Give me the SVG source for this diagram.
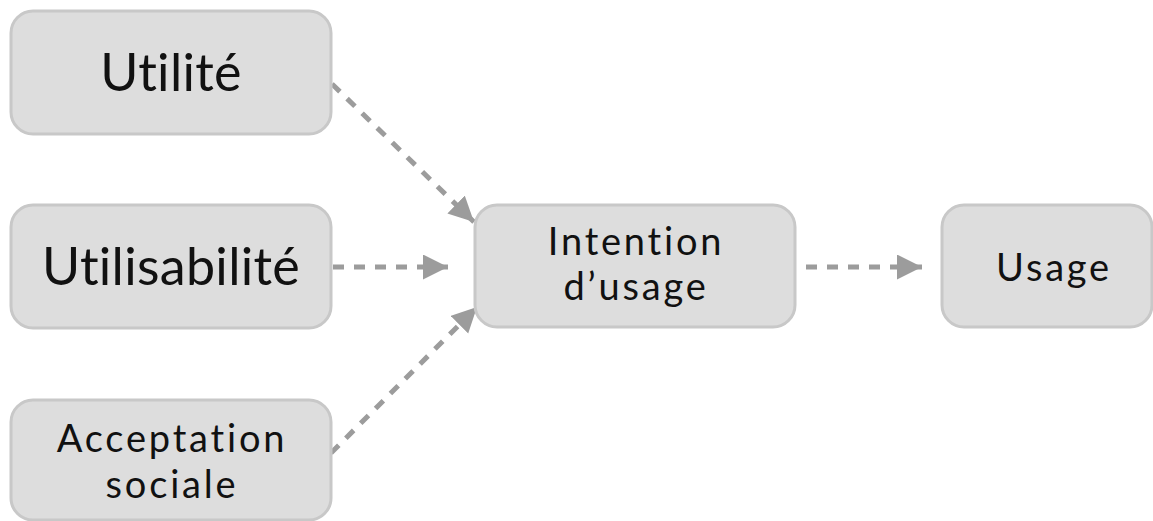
<svg xmlns="http://www.w3.org/2000/svg" width="1153" height="521" viewBox="0 0 1153 521">
<style>
.box{fill:#dddddd;stroke:#c8c8c8;stroke-width:3}
.t{font-family:Lato,"Open Sans",sans-serif;fill:#111;text-anchor:middle;font-variant-ligatures:none;font-feature-settings:"liga" 0,"clig" 0}
.big{font-size:52px;letter-spacing:0.3px}
.mid{font-size:38px;letter-spacing:2.8px}
.edge{stroke:#9c9c9c;stroke-width:5;stroke-dasharray:11 10;fill:none;marker-end:url(#ah)}
</style>
<defs>
<marker id="ah" markerUnits="userSpaceOnUse" markerWidth="26" markerHeight="26" refX="25" refY="12.5" orient="auto" viewBox="0 0 26 26">
<path d="M0,0 L25,12.5 L0,25 z" fill="#9c9c9c"/>
</marker>
</defs>
<rect width="1153" height="521" fill="#ffffff"/>
<g id="connectors">
<line class="edge" x1="332" y1="84" x2="474" y2="222"/>
<line class="edge" x1="333" y1="267" x2="448" y2="267"/>
<line class="edge" x1="331" y1="453" x2="477" y2="307"/>
<line class="edge" x1="806" y1="267" x2="922" y2="267"/>
</g>
<g id="utilite">
<rect class="box" x="11" y="11" width="320" height="123" rx="22"/>
<text class="t big" x="171" y="91">Utilité</text>
</g>
<g id="utilisabilite">
<rect class="box" x="11" y="205" width="320" height="123" rx="22"/>
<text class="t big" x="171" y="285">Utilisabilité</text>
</g>
<g id="acceptation">
<rect class="box" x="11" y="400" width="320" height="120" rx="22"/>
<text class="t mid" x="172" y="452">Acceptation</text>
<text class="t mid" x="172" y="498">sociale</text>
</g>
<g id="intention">
<rect class="box" x="475" y="205" width="320" height="122" rx="22"/>
<text class="t mid" x="636" y="255">Intention</text>
<text class="t mid" x="636" y="300">d’usage</text>
</g>
<g id="usage">
<rect class="box" x="942" y="205" width="210" height="122" rx="22"/>
<text class="t mid" x="1054" y="281">Usage</text>
</g>
</svg>
